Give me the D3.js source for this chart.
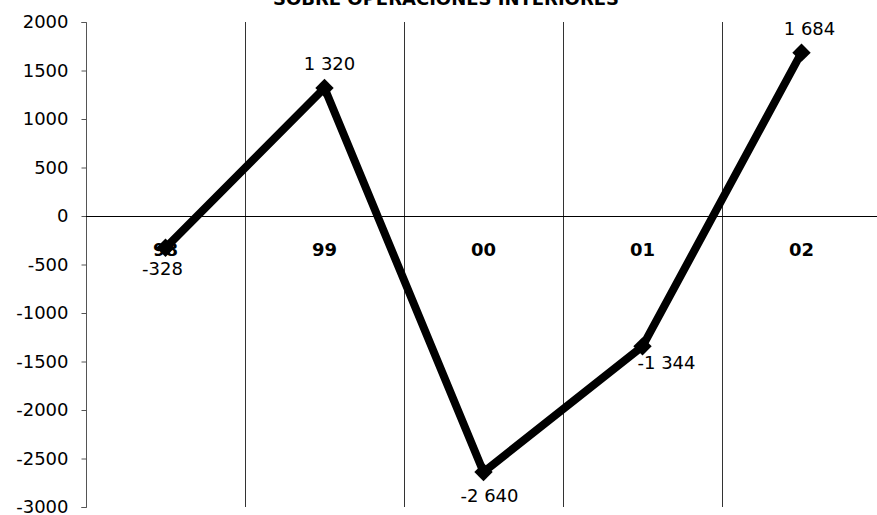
<!DOCTYPE html>
<html><head><meta charset="utf-8">
<script src="https://cdn.jsdelivr.net/npm/d3@7"></script>
<style>body{margin:0;background:#fff}svg{display:block}</style>
</head><body>
<svg id="c" width="877" height="515"></svg>
<script>
const title = "SOBRE OPERACIONES INTERIORES";
const categories = ["98", "99", "00", "01", "02"];
const values = [-328, 1320, -2640, -1344, 1684];
const valueLabels = ["-328", "1 320", "-2 640", "-1 344", "1 684"];
const yTicks = [2000, 1500, 1000, 500, 0, -500, -1000, -1500, -2000, -2500, -3000];

(function () {
const svg = d3.select("#c");
const font = "Verdana, 'DejaVu Sans', sans-serif";
const pLeft = 86, pTop = 22, pBottom = 507, bandW = 159;
const x = d3.scaleBand().domain(categories).range([pLeft, pLeft + bandW * categories.length]).paddingInner(0).paddingOuter(0);
const y = d3.scaleLinear().domain([-3000, 2000]).range([pBottom, pTop]);

// title
svg.append("text").attr("x", 446).attr("y", 5).attr("text-anchor", "middle")
  .attr("font-family", font).attr("font-weight", "bold").attr("font-size", 18).text(title);

// vertical gridlines at category boundaries
svg.append("g").selectAll("line").data(categories.slice(1)).join("line")
  .attr("x1", d => Math.round(x(d)) + 0.5).attr("x2", d => Math.round(x(d)) + 0.5)
  .attr("y1", pTop).attr("y2", pBottom).attr("stroke", "#333").attr("stroke-width", 1);

// y axis
const yAxis = d3.axisLeft(y).tickValues(yTicks).tickSize(5).tickPadding(13).tickFormat(d => String(d));
const ga = svg.append("g").attr("transform", `translate(${pLeft + 0.5},0)`).call(yAxis);
ga.select(".domain").attr("stroke", "#555").attr("d", `M-5,${y(2000)+0.5}H0V${y(-3000)+0.5}H-5`);
ga.selectAll(".tick line").attr("stroke", "#555");
ga.selectAll("text").attr("font-family", font).attr("font-size", 18).attr("fill", "#000");

// zero line
svg.append("line").attr("x1", pLeft).attr("x2", 877).attr("y1", Math.round(y(0)) + 0.5).attr("y2", Math.round(y(0)) + 0.5)
  .attr("stroke", "#000").attr("stroke-width", 1);

// category labels
svg.append("g").selectAll("text").data(categories).join("text")
  .attr("x", d => x(d) + x.bandwidth() / 2).attr("y", y(0) + 40).attr("text-anchor", "middle")
  .attr("font-family", font).attr("font-weight", "bold").attr("font-size", 18).text(d => d);

// line
const pts = categories.map((c, i) => [x(c) + x.bandwidth() / 2, y(values[i])]);
svg.append("path").attr("d", d3.line()(pts)).attr("fill", "none").attr("stroke", "#000")
  .attr("stroke-width", 8).attr("stroke-linejoin", "round");
svg.append("g").selectAll("path").data(pts).join("path")
  .attr("transform", d => `translate(${d[0]},${d[1]}) rotate(45)`)
  .attr("d", "M-6.5,-6.5H6.5V6.5H-6.5Z").attr("fill", "#000");

// value labels
const lbl = [[-3, 27], [5, -18], [6, 30], [24, 23], [8, -18]];
svg.append("g").selectAll("text").data(pts).join("text")
  .attr("x", (d, i) => d[0] + lbl[i][0]).attr("y", (d, i) => d[1] + lbl[i][1])
  .attr("text-anchor", "middle").attr("font-family", font).attr("font-size", 18)
  .text((d, i) => valueLabels[i]);
})();
</script>
</body></html>
